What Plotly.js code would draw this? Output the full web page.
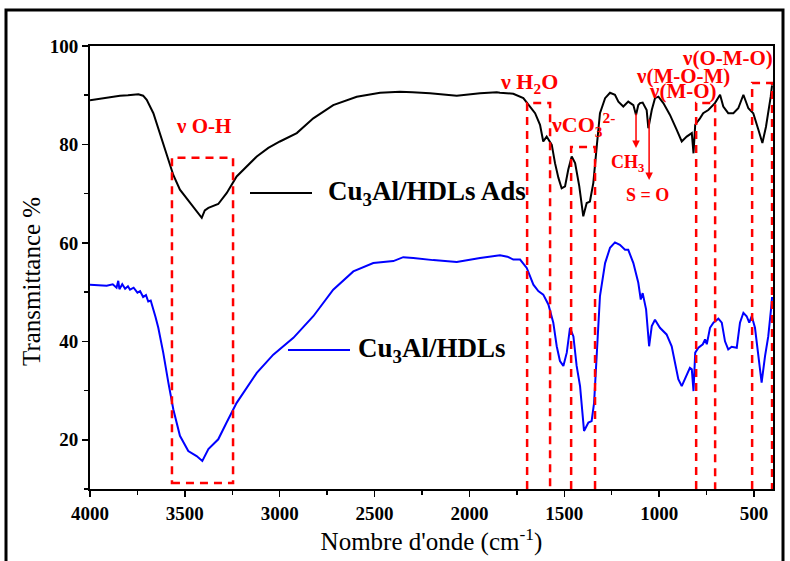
<!DOCTYPE html>
<html>
<head>
<meta charset="utf-8">
<script src="https://cdn.plot.ly/plotly-3.0.1.min.js"></script>
<style>
  html, body { margin: 0; padding: 0; background: #ffffff; }
  #chart { width: 790px; height: 561px; }
</style>
</head>
<body>
<div id="chart"></div>
<script>
// ---- Data (wavenumber in cm-1, transmittance in %) ----
var wnAds = [4000, 3920, 3842, 3800, 3770, 3745, 3720, 3701, 3666, 3631, 3596, 3561, 3526, 3473, 3440, 3411, 3395, 3376, 3324, 3280, 3227, 3121, 3060, 2999, 2910, 2823, 2718, 2594, 2471, 2366, 2300, 2208, 2067, 1944, 1856, 1839, 1769, 1716, 1681, 1654, 1628, 1611, 1593, 1566, 1549, 1531, 1514, 1496, 1479, 1461, 1443, 1421, 1400, 1382, 1365, 1347, 1329, 1312, 1285, 1259, 1233, 1215, 1189, 1163, 1136, 1122, 1110, 1101, 1087, 1075, 1066, 1057, 1039, 1022, 1004, 978, 943, 908, 881, 855, 828, 819, 810, 785, 768, 741, 723, 706, 679, 662, 636, 609, 583, 556, 530, 504, 477, 456, 437, 425, 412, 405];
var tAds  = [89.0, 89.5, 89.9, 90.0, 90.1, 90.2, 89.9, 89.05, 86.35, 82.3, 78.2, 73.8, 70.8, 68.1, 66.6, 65.1, 66.6, 67.1, 67.9, 70.1, 73.5, 77.55, 79.3, 80.6, 82.3, 85.3, 88.0, 89.7, 90.5, 90.7, 90.6, 90.4, 89.9, 90.4, 90.6, 90.5, 90.3, 89.4, 87.7, 86.35, 84.0, 80.6, 81.6, 79.9, 76.2, 73.2, 71.1, 71.5, 74.9, 77.55, 76.2, 71.5, 65.4, 68.1, 68.4, 72.2, 79.6, 86.35, 89.4, 90.5, 90.1, 88.7, 87.7, 88.7, 88.0, 86.0, 88.0, 88.4, 88.5, 87.7, 87.0, 83.3, 87.0, 89.4, 89.7, 88.4, 86.0, 83.0, 80.6, 81.6, 82.3, 78.2, 84.0, 85.3, 86.35, 87.0, 87.7, 88.4, 90.1, 87.7, 86.35, 86.35, 87.35, 90.1, 87.35, 86.35, 83.0, 80.3, 83.6, 86.35, 89.7, 92.0];

var wnHdl = [4000, 3950, 3912, 3880, 3860, 3851, 3845, 3830, 3815, 3800, 3789, 3770, 3750, 3736, 3720, 3705, 3693, 3680, 3666, 3655, 3640, 3614, 3587, 3561, 3526, 3482, 3438, 3408, 3376, 3324, 3280, 3227, 3121, 3034, 2928, 2823, 2718, 2612, 2507, 2401, 2349, 2296, 2191, 2067, 1944, 1880, 1839, 1800, 1769, 1733, 1698, 1663, 1637, 1611, 1584, 1558, 1540, 1523, 1505, 1487, 1470, 1452, 1435, 1417, 1403, 1396, 1373, 1356, 1343, 1329, 1312, 1285, 1259, 1233, 1207, 1180, 1163, 1136, 1110, 1097, 1087, 1069, 1053, 1039, 1022, 996, 961, 934, 916, 899, 881, 855, 838, 828, 819, 810, 793, 770, 758, 749, 732, 714, 688, 670, 653, 636, 618, 591, 574, 556, 539, 525, 512, 495, 477, 460, 442, 425, 407, 405];
var tHdl  = [51.5, 51.4, 51.3, 51.6, 50.9, 52.3, 50.6, 51.6, 50.7, 51.2, 50.5, 50.9, 49.9, 50.2, 49.0, 49.4, 48.1, 48.3, 46.1, 45.0, 42.75, 37.7, 31.6, 26.2, 20.8, 17.7, 16.7, 15.7, 18.1, 20.1, 23.5, 27.5, 33.6, 37.3, 40.7, 45.1, 50.5, 54.2, 55.9, 56.3, 57.1, 56.95, 56.5, 56.1, 56.95, 57.3, 57.5, 57.2, 56.6, 56.6, 54.9, 51.5, 50.2, 49.5, 47.5, 43.8, 39.0, 36.0, 35.0, 37.7, 42.75, 41.0, 35.0, 30.9, 24.8, 21.8, 23.5, 23.8, 27.5, 37.0, 49.2, 55.9, 59.0, 60.1, 59.6, 58.6, 58.6, 55.9, 51.9, 48.5, 49.8, 46.5, 39.0, 43.1, 44.4, 42.75, 41.4, 39.0, 35.65, 32.3, 30.9, 33.3, 34.6, 34.3, 29.9, 37.7, 38.7, 39.4, 40.4, 39.4, 42.75, 43.8, 44.6, 43.8, 40.0, 38.35, 38.9, 38.7, 43.8, 45.8, 45.1, 43.8, 45.1, 42.75, 37.0, 31.6, 37.0, 41.0, 47.8, 49.0];

var seriesNames = ["Cu<sub>3</sub>Al/HDLs Ads", "Cu<sub>3</sub>Al/HDLs"];
var xTicks = [4000, 3500, 3000, 2500, 2000, 1500, 1000, 500];
var yTicks = [20, 40, 60, 80, 100];
var xTitle = "Nombre d'onde (cm<sup>-1</sup>)";
var yTitle = "Transmittance %";

// Highlighted band regions [wn high, wn low, top %]
var bandOH   = [3568, 3246, 77.3];
var bandH2O  = [1696, 1575, 88.4];
var bandCO3  = [1464, 1338, 79.5];
var bandMOM  = [805, 705, 88.4];
var bandOMO  = [510, 405, 92.5];
// Arrows [wn, tail %, head %]
var arrowCH3 = [1122, 86.6, 79.3];
var arrowSO  = [1053, 85.4, 72.8];

// ---- Layout helpers (pixel -> paper) ----
var L = 90, R = 773, T = 46, B = 489;
function px(x) { return (x - L) / (R - L); }
function py(y) { return (B - y) / (B - T); }

var SERIF = "Liberation Serif";
var red = "#ff0000";
var dashLine = { color: red, width: 2.5, dash: "8px,6px" };

function openBox(b) {
  return { type: "path", xref: "x", yref: "y",
    path: "M" + b[0] + ",10 L" + b[0] + "," + b[2] + " L" + b[1] + "," + b[2] + " L" + b[1] + ",10",
    line: dashLine };
}

var traces = [
  { x: wnAds, y: tAds, type: "scatter", mode: "lines", name: seriesNames[0],
    line: { color: "#000000", width: 2 }, showlegend: false },
  { x: wnHdl, y: tHdl, type: "scatter", mode: "lines", name: seriesNames[1],
    line: { color: "#0000ff", width: 2 }, showlegend: false }
];

var layout = {
  width: 790, height: 561,
  font: { family: SERIF, color: "#000" },
  margin: { l: L, r: 790 - R, t: T, b: 561 - B },
  paper_bgcolor: "#ffffff", plot_bgcolor: "#ffffff",
  showlegend: false,
  xaxis: {
    range: [4000, 400], autorange: false,
    tickvals: xTicks, ticktext: xTicks.map(function (v) { return "<b>" + v + "</b>"; }),
    ticks: "outside", ticklen: 6, tickwidth: 1.5, tickcolor: "#000",
    minor: { dtick: 250, tick0: 0, ticks: "outside", ticklen: 4, tickwidth: 1.5, tickcolor: "#000" },
    showline: true, linecolor: "#000", linewidth: 2, mirror: true,
    showgrid: false, zeroline: false,
    tickfont: { family: SERIF, size: 19, color: "#000" },
    title: { text: xTitle, standoff: 10,
      font: { family: SERIF, size: 25, color: "#000" } }
  },
  xaxis2: {
    range: [4000, 400], autorange: false, overlaying: "x", side: "top",
    tickvals: xTicks, showticklabels: false,
    ticks: "inside", ticklen: 6, tickwidth: 1.5, tickcolor: "#000",
    minor: { dtick: 250, tick0: 0, ticks: "inside", ticklen: 4, tickwidth: 1.5, tickcolor: "#000" },
    showline: false, showgrid: false, zeroline: false
  },
  yaxis: {
    range: [10, 100], autorange: false,
    tickvals: yTicks, ticktext: yTicks.map(function (v) { return "<b>" + v + "</b>"; }),
    ticks: "outside", ticklen: 6, tickwidth: 1.5, tickcolor: "#000",
    minor: { dtick: 10, tick0: 0, ticks: "outside", ticklen: 4, tickwidth: 1.5, tickcolor: "#000" },
    showline: true, linecolor: "#000", linewidth: 2, mirror: true,
    showgrid: false, zeroline: false,
    tickfont: { family: SERIF, size: 19, color: "#000" }
  },
  shapes: [
    // outer frame
    { type: "rect", xref: "paper", yref: "paper",
      x0: px(6), x1: px(783), y0: py(600), y1: py(10),
      line: { color: "#000", width: 3 }, layer: "below" },
    // O-H box (closed)
    { type: "rect", xref: "x", yref: "y", x0: bandOH[0], x1: bandOH[1], y0: 11.2, y1: bandOH[2], line: dashLine },
    openBox(bandH2O), openBox(bandCO3), openBox(bandMOM), openBox(bandOMO),
    // series sample lines
    { type: "line", xref: "paper", yref: "paper", x0: px(250), x1: px(312), y0: py(193), y1: py(193),
      line: { color: "#000", width: 2 } },
    { type: "line", xref: "paper", yref: "paper", x0: px(288), x1: px(350), y0: py(350), y1: py(350),
      line: { color: "#0000ff", width: 2 } }
  ],
  annotations: []
};

// y-axis title (placed as in the reference)
layout.annotations.push({ text: yTitle, xref: "paper", yref: "paper", x: px(31), y: py(282),
  xanchor: "center", yanchor: "middle", textangle: -90, showarrow: false,
  font: { family: SERIF, size: 25, color: "#000" } });

function label(text, x, y, size, anchor) {
  return { text: "<b>" + text + "</b>", xref: "paper", yref: "paper", x: px(x), y: py(y),
    xanchor: anchor || "center", yanchor: "middle", showarrow: false,
    font: { family: SERIF, size: size, color: red } };
}
layout.annotations.push(label("\u03bd O-H", 203, 126, 21));
layout.annotations.push(label("\u03bd H<sub>2</sub>O", 529, 83, 22));
layout.annotations.push(label("\u03bdCO<sub>3</sub><sup>2-</sup>", 549, 124, 22, "left"));
layout.annotations.push(label("\u03bd(M-O-M)", 683, 76, 21));
layout.annotations.push(label("\u03bd(M-O)", 683, 91, 21));
layout.annotations.push(label("\u03bd(O-M-O)", 727, 58, 21));
layout.annotations.push(label("CH<sub>3</sub>", 627, 163, 18));
layout.annotations.push(label("S = O", 647, 195, 18));

// arrows
[arrowCH3, arrowSO].forEach(function (a) {
  layout.annotations.push({ x: a[0], y: a[2], ax: a[0], ay: a[1], xref: "x", yref: "y", axref: "x", ayref: "y",
    text: "", showarrow: true, arrowhead: 2, arrowsize: 1, arrowwidth: 1.5, arrowcolor: red });
});

// series labels
var blackFont = { family: SERIF, size: 27, color: "#000" };
layout.annotations.push({ text: "<b>" + seriesNames[0] + "</b>", xref: "paper", yref: "paper",
  x: px(326), y: py(193), xanchor: "left", yanchor: "middle", showarrow: false, font: blackFont });
layout.annotations.push({ text: "<b>" + seriesNames[1] + "</b>", xref: "paper", yref: "paper",
  x: px(356), y: py(350), xanchor: "left", yanchor: "middle", showarrow: false, font: blackFont });

Plotly.newPlot("chart", traces, layout, { staticPlot: true, displayModeBar: false });
</script>
</body>
</html>
